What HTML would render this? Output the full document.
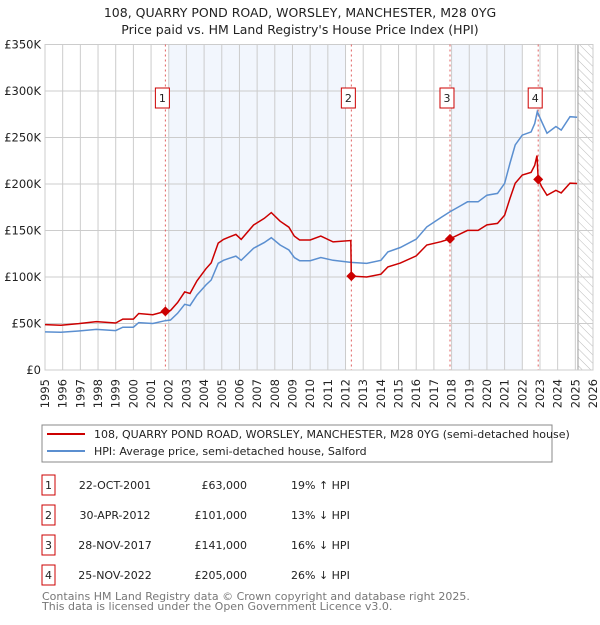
<!DOCTYPE html>
<html><head><meta charset="utf-8"><style>
body{margin:0;background:#fff;font-family:"Liberation Sans","DejaVu Sans",sans-serif;}
svg text{font-family:"DejaVu Sans","Liberation Sans",sans-serif;}
</style></head><body>
<svg id="c" width="600" height="620" viewBox="0 0 600 620" xmlns="http://www.w3.org/2000/svg">
<defs><pattern id="hatch" width="6" height="6" patternUnits="userSpaceOnUse" patternTransform="rotate(-45)"><line x1="0" y1="0" x2="0" y2="6" stroke="#bbb" stroke-width="1"/></pattern></defs>
<text x="300" y="17" text-anchor="middle" font-size="12.5" fill="#222">108, QUARRY POND ROAD, WORSLEY, MANCHESTER, M28 0YG</text>
<text x="300" y="34" text-anchor="middle" font-size="12.5" fill="#222">Price paid vs. HM Land Registry's House Price Index (HPI)</text>
<g id="plot"></g>
<rect x="42" y="425" width="510" height="37" fill="#fff" stroke="#888"/>
<line x1="47" y1="434" x2="85" y2="434" stroke="#cc0000" stroke-width="2"/>
<text x="94" y="438" font-size="11" fill="#222">108, QUARRY POND ROAD, WORSLEY, MANCHESTER, M28 0YG (semi-detached house)</text>
<line x1="47" y1="451" x2="85" y2="451" stroke="#5b8fd0" stroke-width="2"/>
<text x="94" y="455" font-size="11" fill="#222">HPI: Average price, semi-detached house, Salford</text>
<g id="table" font-size="11" fill="#222"></g>
<text x="42" y="600" font-size="11" fill="#777">Contains HM Land Registry data © Crown copyright and database right 2025.</text>
<text x="42" y="610" font-size="11" fill="#777">This data is licensed under the Open Government Licence v3.0.</text>
</svg>
<script>
const hpiYears=[1995.0,1995.9,1996.9,1997.9,1999.0,1999.4,2000.0,2000.3,2001.1,2001.8,2002.1,2002.5,2002.9,2003.2,2003.6,2004.1,2004.4,2004.8,2005.1,2005.4,2005.8,2006.1,2006.8,2007.4,2007.8,2008.3,2008.8,2009.1,2009.4,2010.0,2010.6,2011.3,2012.3,2013.2,2014.0,2014.4,2015.1,2016.0,2016.6,2017.4,2017.9,2018.5,2018.9,2019.5,2020.0,2020.6,2021.0,2021.3,2021.6,2022.0,2022.5,2022.7,2022.85,2023.1,2023.4,2023.9,2024.2,2024.7,2025.1];
const hpiValues=[41,40.5,41.9,43.7,42.4,46,46,51,50,53,53.8,61,70.6,69.2,80.6,91.4,96.8,114.7,118,120,122.5,118,131,137,142.3,134.4,129,121,117.5,117.5,121,118,115.7,114.6,118,127,131.7,140.6,153.9,164,170,176.5,180.9,180.9,188,189.9,200.6,222,241.9,252.6,256,265,277.8,267,254.6,261.8,258,272.4,271.7];
const priceYears=[1995.0,1995.9,1996.9,1997.9,1999.0,1999.4,2000.0,2000.3,2001.1,2001.8,2002.1,2002.5,2002.9,2003.2,2003.6,2004.1,2004.4,2004.8,2005.1,2005.4,2005.8,2006.1,2006.8,2007.4,2007.8,2008.3,2008.8,2009.1,2009.4,2010.0,2010.6,2011.3,2012.3,2012.33,2013.2,2014.0,2014.4,2015.1,2016.0,2016.6,2017.4,2017.9,2018.5,2018.9,2019.5,2020.0,2020.6,2021.0,2021.3,2021.6,2022.0,2022.5,2022.7,2022.83,2022.9,2023.1,2023.4,2023.9,2024.2,2024.7,2025.1];
const priceValues=[48.8,48.2,49.9,52,50.5,54.7,54.7,60.7,59.5,63,64,72.6,84,82.3,95.9,108.8,115.2,136.5,140.4,142.8,145.8,140.4,155.9,163,169.3,160,153.5,144,139.8,139.8,144,137.7,139.3,101,100,103,110.9,115,122.7,134.4,138,141,146.5,150.1,150.1,156,157.6,166.5,184.3,200.8,209.7,212.5,220,230.6,205,197,187.9,193.2,190.4,201,200.5];
const saleLabels=["1","2","3","4"];
const saleYears=[2001.81,2012.33,2017.91,2022.9];
const salePrices=[63,101,141,205];
const saleDates=["22-OCT-2001","30-APR-2012","28-NOV-2017","25-NOV-2022"];
const salePriceText=["£63,000","£101,000","£141,000","£205,000"];
const saleHpiText=["19% ↑ HPI","13% ↓ HPI","16% ↓ HPI","26% ↓ HPI"];
const yTicks=[0,50,100,150,200,250,300,350];
const yTickLabels=["£0","£50K","£100K","£150K","£200K","£250K","£300K","£350K"];
const xTicks=[1995,1996,1997,1998,1999,2000,2001,2002,2003,2004,2005,2006,2007,2008,2009,2010,2011,2012,2013,2014,2015,2016,2017,2018,2019,2020,2021,2022,2023,2024,2025,2026];
const shadeRanges=[[2002,2012],[2018,2022]];
const forecastStart=2025.15;

const X0=45,X1=593,Y0=370,Y1=44.5;
const x=y=>X0+(y-1995)/31*(X1-X0);
const yv=v=>Y0-v/350*(Y0-Y1);
const NS="http://www.w3.org/2000/svg";
const plot=document.getElementById('plot');
function mk(tag,attrs,parent){const e=document.createElementNS(NS,tag);for(const k in attrs)e.setAttribute(k,attrs[k]);(parent||plot).appendChild(e);return e;}
shadeRanges.forEach(r=>{const e=mk('rect',{x:x(r[0]),y:Y1,width:x(r[1])-x(r[0]),height:Y0-Y1,fill:'#eef3fc',opacity:0.75});

});
const h=mk('rect',{x:x(forecastStart),y:Y1,width:X1-x(forecastStart),height:Y0-Y1,fill:'url(#hatch)'});


mk('line',{x1:x(forecastStart),y1:Y1,x2:x(forecastStart),y2:Y0,stroke:'#999','stroke-width':1});
xTicks.forEach(t=>{mk('line',{x1:x(t),y1:Y1,x2:x(t),y2:Y0,stroke:'#ccc','stroke-width':1});
const tx=mk('text',{x:0,y:0,'text-anchor':'end','font-size':11.5,fill:'#222',transform:`translate(${(x(t)+4).toFixed(1)},${Y0+9}) rotate(-90)`});tx.textContent=t;

});
yTicks.forEach((t,i)=>{mk('line',{x1:X0,y1:yv(t),x2:X1,y2:yv(t),stroke:'#ccc','stroke-width':1});
const tx=mk('text',{x:X0-4,y:yv(t)+4,'text-anchor':'end','font-size':11.5,fill:'#222'});tx.textContent=yTickLabels[i];

});
mk('rect',{x:X0,y:Y1,width:X1-X0,height:Y0-Y1,fill:'none',stroke:'#ccc'});
saleYears.forEach((s,i)=>{const l=mk('line',{x1:x(s),y1:Y1,x2:x(s),y2:Y0,stroke:'#e06060','stroke-width':1,'stroke-dasharray':'2,3'});


const bx=x(s)-3;
const r=mk('rect',{x:bx-7,y:88,width:14,height:20,fill:'#fff',stroke:'#cc0000'});


const t=mk('text',{x:bx,y:102,'text-anchor':'middle','font-size':11,fill:'#222'});t.textContent=saleLabels[i];});
const hp=mk('path',{d:hpiYears.map((yr,i)=>(i?'L':'M')+x(yr).toFixed(1)+','+yv(hpiValues[i]).toFixed(1)).join(''),fill:'none',stroke:'#5b8fd0','stroke-width':1.5});


const pp=mk('path',{d:priceYears.map((yr,i)=>(i?'L':'M')+x(yr).toFixed(1)+','+yv(priceValues[i]).toFixed(1)).join(''),fill:'none',stroke:'#cc0000','stroke-width':1.5});


saleYears.forEach((s,i)=>{const cx=x(s),cy=yv(salePrices[i]);
const d=mk('path',{d:`M${cx},${cy-5}L${cx+5},${cy}L${cx},${cy+5}L${cx-5},${cy}Z`,fill:'#cc0000'});

});
const tb=document.getElementById('table');
saleLabels.forEach((lab,i)=>{const cy=485+i*30;
const r=mk('rect',{x:42,y:cy-10,width:13,height:20,fill:'#fff',stroke:'#cc0000'},tb);


const vals=[[48.5,'middle',lab],[115,'middle',saleDates[i]],[247,'end',salePriceText[i]],[291,'start',saleHpiText[i]]];
vals.forEach(v=>{const t=mk('text',{x:v[0],y:cy+4,'text-anchor':v[1]},tb);t.textContent=v[2];

});});
</script>
</body></html>
